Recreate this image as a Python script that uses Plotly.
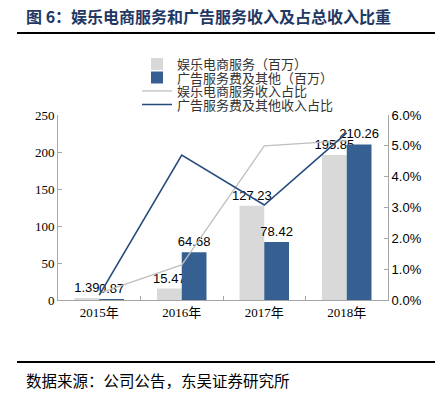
import plotly.graph_objects as go

years = ["2015年", "2016年", "2017年", "2018年"]
ecom_rev = [1.39, 15.47, 127.23, 195.85]
ad_rev = [0.87, 64.68, 78.42, 210.26]
ecom_share = [0.0022, 0.0114, 0.0500, 0.0517]
ad_share = [0.0016, 0.0470, 0.0308, 0.0542]

W, H = 441, 394
L, R, T, B = 58, 388, 115, 300

def px(x):
    return (x - L) / (R - L)

def py(y):
    return (B - y) / (B - T)

lab_font = dict(family="Liberation Sans, Arial", size=13, color="black")

fig = go.Figure()
fig.add_trace(go.Bar(x=years, y=ecom_rev, name="娱乐电商服务（百万）", legend="legend",
                     marker=dict(color="#D9D9D9", line=dict(width=0)),
                     text=[f"{v:.2f}" for v in ecom_rev], textposition="outside",
                     textfont=lab_font, constraintext="none", cliponaxis=False))
fig.add_trace(go.Bar(x=years, y=ad_rev, name="广告服务费及其他（百万）", legend="legend2",
                     marker=dict(color="#376092", line=dict(width=0)),
                     text=[f"{v:.2f}" for v in ad_rev], textposition="outside",
                     textfont=lab_font, constraintext="none", cliponaxis=False))
fig.add_trace(go.Scatter(x=years, y=ecom_share, name="娱乐电商服务收入占比", yaxis="y2",
                         legend="legend3", mode="lines", line=dict(color="#BFBFBF", width=1.3)))
fig.add_trace(go.Scatter(x=years, y=ad_share, name="广告服务费及其他收入占比", yaxis="y2",
                         legend="legend4", mode="lines", line=dict(color="#254B7E", width=1.6)))

def leg(yc):
    return dict(x=px(137), y=py(yc), xanchor="left", yanchor="middle",
                font=dict(family="Noto Sans CJK SC", size=13, color="#333333"),
                bgcolor="rgba(0,0,0,0)", itemwidth=30)

axcol = "#A6A6A6"
fig.update_layout(
    width=W, height=H,
    margin=dict(l=L, r=W - R, t=T, b=H - B),
    paper_bgcolor="white", plot_bgcolor="white",
    bargap=0.4, bargroupgap=0,
    showlegend=True,
    legend=leg(64), legend2=leg(77.5), legend3=leg(91), legend4=leg(104.5),
    xaxis=dict(showline=True, linecolor=axcol, linewidth=1, ticks="inside",
               tickson="boundaries", ticklen=4, tickcolor=axcol,
               tickfont=dict(family="Liberation Serif, Noto Sans CJK SC", size=13, color="black"),
               showgrid=False),
    yaxis=dict(range=[0, 250], dtick=50, showline=True, linecolor=axcol, linewidth=1,
               ticks="inside", ticklen=4, tickcolor=axcol, showgrid=False, zeroline=False,
               tickfont=dict(family="Liberation Serif", size=13, color="black")),
    yaxis2=dict(range=[0, 0.06], dtick=0.01, tickformat=".1%", overlaying="y", side="right",
                showline=True, linecolor=axcol, linewidth=1, ticks="inside", ticklen=4,
                tickcolor=axcol, showgrid=False, zeroline=False,
                tickfont=dict(family="Liberation Sans, Arial", size=13, color="black")),
)

fig.add_annotation(xref="paper", yref="paper", x=px(24), y=py(16), xanchor="left", yanchor="middle",
                   text="<b>图 6：娱乐电商服务和广告服务收入及占总收入比重</b>", showarrow=False,
                   font=dict(family="Noto Sans CJK SC", size=16, color="#1F3864"))
fig.add_annotation(xref="paper", yref="paper", x=px(24), y=py(380), xanchor="left", yanchor="middle",
                   text="数据来源：公司公告，东吴证券研究所", showarrow=False,
                   font=dict(family="Noto Sans CJK SC", size=15.5, color="black"))
fig.add_shape(type="line", xref="paper", yref="paper", x0=px(17), x1=px(435), y0=py(33), y1=py(33),
              line=dict(color="black", width=2))
fig.add_shape(type="line", xref="paper", yref="paper", x0=px(17), x1=px(435), y0=py(362), y1=py(362),
              line=dict(color="black", width=2))

fig.write_html("out.html", config={"displayModeBar": False},
               post_script="document.body.style.margin='0';document.body.style.padding='0';")
